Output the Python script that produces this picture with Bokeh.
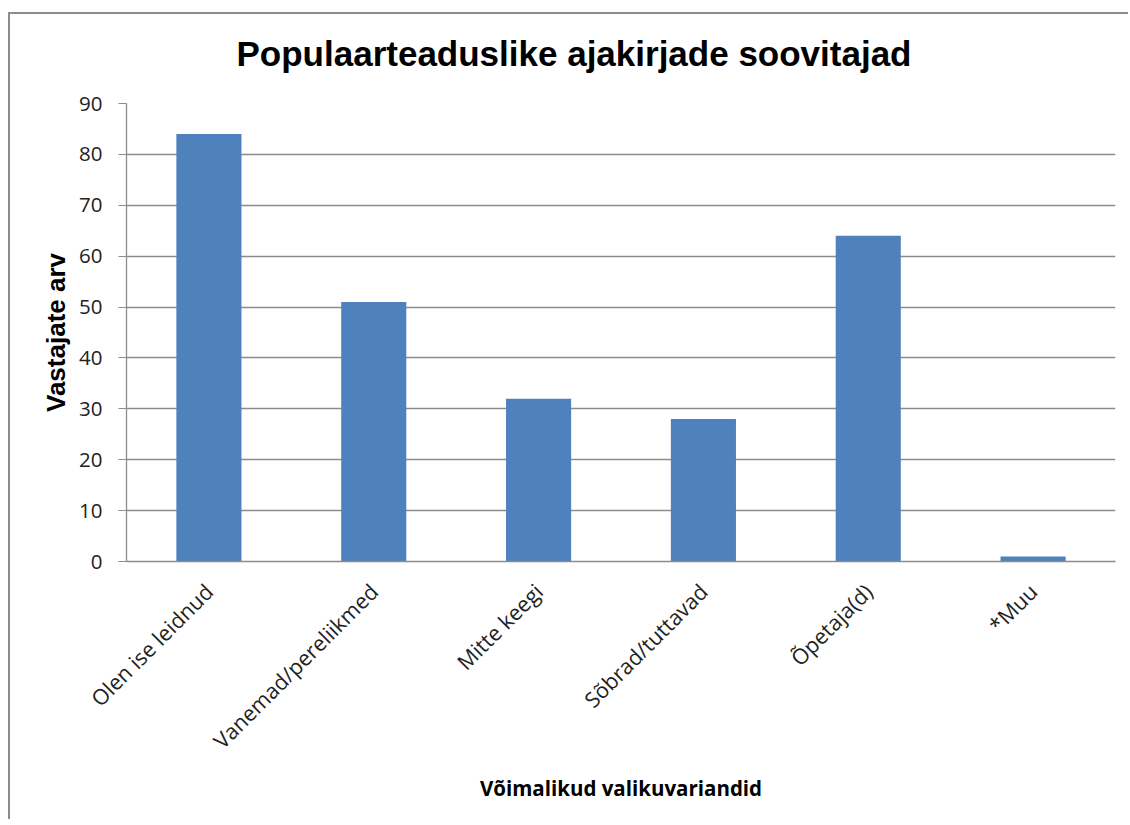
import math
from bokeh.plotting import figure
from bokeh.embed import file_html
from bokeh.resources import INLINE
from bokeh.models import ColumnDataSource, FixedTicker

categories = ["Olen ise leidnud", "Vanemad/pereliikmed", "Mitte keegi",
              "Sõbrad/tuttavad", "Õpetaja(d)", "*Muu"]
counts = [84, 51, 32, 28, 64, 1]
y_ticks = [0, 10, 20, 30, 40, 50, 60, 70, 80, 90]

title_text = "Populaarteaduslike ajakirjade soovitajad"
x_title = "Võimalikud valikuvariandid"
y_title = "Vastajate arv"

src = ColumnDataSource(dict(cat=categories, val=counts))

p = figure(x_range=categories, y_range=(0, 90), width=1120, height=819,
           output_backend="svg", toolbar_location=None,
           title=title_text,
           min_border_left=118, min_border_right=13, min_border_top=103,
           min_border_bottom=258)
p.styles = {
    "margin-left": "8px",
    "background-color": "white",
    "box-shadow": "inset 0 12px 0 0 white, inset 0 14px 0 0 #8c8c8c, inset 2px 0 0 0 #8c8c8c",
}

p.vbar(x="cat", top="val", width=0.395, source=src, color="#4F81BD", line_color=None)

p.title.text_font = "Liberation Sans"
p.title.text_font_size = "35px"
p.title.text_font_style = "bold"
p.title.align = "left"
p.title.offset = 110
p.title.text_color = "#000000"
p.title.standoff = 62

p.outline_line_color = None
p.background_fill_color = "white"
p.border_fill_color = None

p.xgrid.grid_line_color = None
p.ygrid.grid_line_color = "#8c8c8c"
p.ygrid.grid_line_width = 1.3

p.yaxis.ticker = FixedTicker(ticks=y_ticks)
p.yaxis.axis_line_color = "#8c8c8c"
p.yaxis.axis_line_width = 1.3
p.yaxis.major_tick_line_color = "#8c8c8c"
p.yaxis.major_tick_out = 8
p.yaxis.major_tick_in = 0
p.yaxis.minor_tick_line_color = None
p.yaxis.major_label_text_font = "Open Sans"
p.yaxis.major_label_text_font_size = "20.5px"
p.yaxis.major_label_text_color = "#222222"
p.yaxis.major_label_standoff = 16
p.yaxis.axis_label = y_title
p.yaxis.axis_label_text_font = "Liberation Sans"
p.yaxis.axis_label_text_font_size = "26px"
p.yaxis.axis_label_text_font_style = "bold"
p.yaxis.axis_label_text_color = "#000000"
p.yaxis.axis_label_standoff = 5

p.xaxis.axis_line_color = "#8c8c8c"
p.xaxis.axis_line_width = 1.3
p.xaxis.major_tick_line_color = None
p.xaxis.minor_tick_line_color = None
p.xaxis.major_label_orientation = math.pi / 4
p.xaxis.major_label_text_font = "Open Sans"
p.xaxis.major_label_text_font_size = "21.5px"
p.xaxis.major_label_text_color = "#222222"
p.xaxis.major_label_standoff = 20
p.xaxis.axis_label = x_title
p.xaxis.axis_label_text_font = "Open Sans"
p.xaxis.axis_label_text_font_size = "20.5px"
p.xaxis.axis_label_text_font_style = "bold"
p.xaxis.axis_label_text_color = "#000000"
p.xaxis.axis_label_standoff = 6

p.x_range.range_padding = 0

open("out.html", "w").write(file_html(p, INLINE))
